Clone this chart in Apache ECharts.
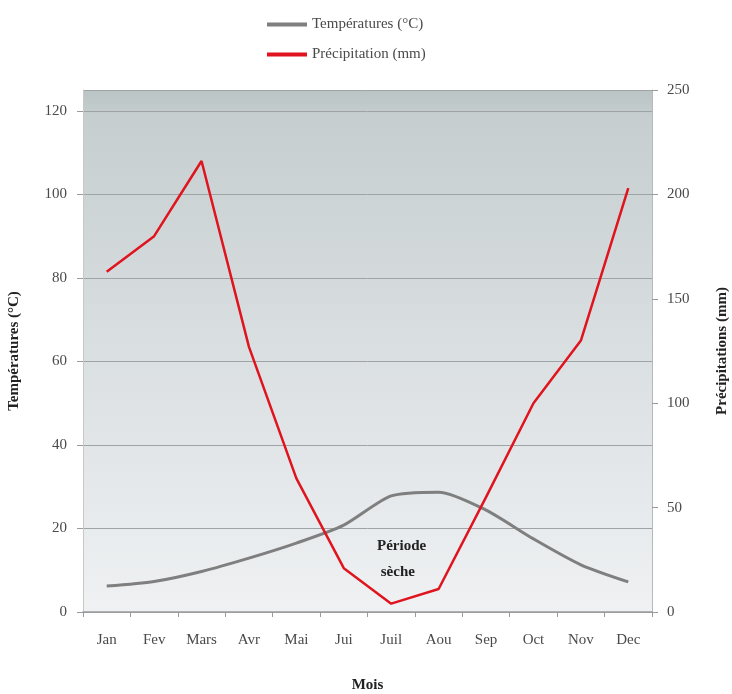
<!DOCTYPE html>
<html>
<head>
<meta charset="utf-8">
<script src="https://cdn.jsdelivr.net/npm/echarts@6/dist/echarts.min.js"></script>
<style>
html,body{margin:0;padding:0;background:#fff;}
#chart{width:732px;height:694px;}
</style>
</head>
<body>
<div id="chart"></div>
<script>
var mois = ['Jan', 'Fev', 'Mars', 'Avr', 'Mai', 'Jui', 'Juil', 'Aou', 'Sep', 'Oct', 'Nov', 'Dec'];
var temperatures = [6.2, 7.3, 9.7, 12.9, 16.5, 20.8, 27.8, 28.7, 24.4, 17.5, 11.3, 7.2];
var precipitation = [163, 180, 216, 127, 64, 21, 4, 11, 55, 100, 130, 203];

var serif = '"Liberation Serif", "DejaVu Serif", serif';
var grey = '#4a4a4a';

var myChart = echarts.init(document.getElementById('chart'));
var option = {
    backgroundColor: '#ffffff',
    textStyle: {fontFamily: serif},
    legend: {
        orient: 'vertical',
        left: 262,
        top: 12,
        itemGap: 15,
        itemWidth: 40,
        itemHeight: 4,
        icon: 'rect',
        textStyle: {fontFamily: serif, fontSize: 15, color: grey},
        data: ['Températures (°C)', 'Précipitation (mm)']
    },
    grid: {
        left: 83,
        right: 80,
        top: 90,
        bottom: 82,
        containLabel: false,
        outerBoundsMode: 'none',
        show: true,
        borderWidth: 0,
        backgroundColor: {
            type: 'linear', x: 0, y: 0, x2: 0, y2: 1,
            colorStops: [
                {offset: 0, color: '#bac4c5'},
                {offset: 0.05, color: '#c6cecf'},
                {offset: 0.5, color: '#dadfe1'},
                {offset: 1, color: '#eff1f3'}
            ]
        }
    },
    xAxis: {
        type: 'category',
        data: mois,
        name: 'Mois',
        nameLocation: 'middle',
        nameGap: 66,
        nameTextStyle: {fontFamily: serif, fontSize: 15, fontWeight: 'bold', color: '#222'},
        axisLine: {lineStyle: {color: '#9a9a9a', width: 1.5}},
        axisTick: {show: true, length: 5, lineStyle: {color: '#9a9a9a'}},
        axisLabel: {margin: 21, fontFamily: serif, fontSize: 15, color: grey}
    },
    yAxis: [{
        type: 'value',
        min: 0,
        max: 125,
        interval: 20,
        name: 'Températures (°C)',
        nameLocation: 'middle',
        nameGap: 61,
        nameRotate: 90,
        nameTextStyle: {fontFamily: serif, fontSize: 15, fontWeight: 'bold', color: '#222'},
        axisLine: {show: true, lineStyle: {color: '#c8c8c8'}},
        axisTick: {show: true, length: 6, lineStyle: {color: '#9a9a9a'}},
        axisLabel: {margin: 16, fontFamily: serif, fontSize: 15, color: grey, showMaxLabel: false},
        splitLine: {show: true, lineStyle: {color: '#9ea3a5', width: 1}}
    }, {
        type: 'value',
        min: 0,
        max: 250,
        interval: 50,
        name: 'Précipitations (mm)',
        nameLocation: 'middle',
        nameGap: 63,
        nameRotate: 90,
        nameTextStyle: {fontFamily: serif, fontSize: 15, fontWeight: 'bold', color: '#222'},
        axisLine: {show: true, lineStyle: {color: '#b4b9bb'}},
        axisTick: {show: true, length: 6, lineStyle: {color: '#9a9a9a'}},
        axisLabel: {margin: 15, fontFamily: serif, fontSize: 15, color: grey},
        splitLine: {show: false}
    }],
    graphic: [{
        type: 'text',
        left: 377,
        top: 533,
        style: {
            text: 'Période\n sèche',
            fontFamily: serif,
            fontSize: 15,
            fontWeight: 'bold',
            lineHeight: 26,
            fill: '#222'
        }
    }],
    series: [{
        name: 'Températures (°C)',
        type: 'line',
        yAxisIndex: 0,
        data: temperatures,
        smooth: 0.25,
        symbol: 'none',
        color: '#7f7f7f',
        lineStyle: {width: 3, color: '#7f7f7f'}
    }, {
        name: 'Précipitation (mm)',
        type: 'line',
        yAxisIndex: 1,
        data: precipitation,
        symbol: 'none',
        color: '#e0141e',
        lineStyle: {width: 2.5, color: '#e0141e'}
    }]
};
myChart.setOption(option);
</script>
</body>
</html>
